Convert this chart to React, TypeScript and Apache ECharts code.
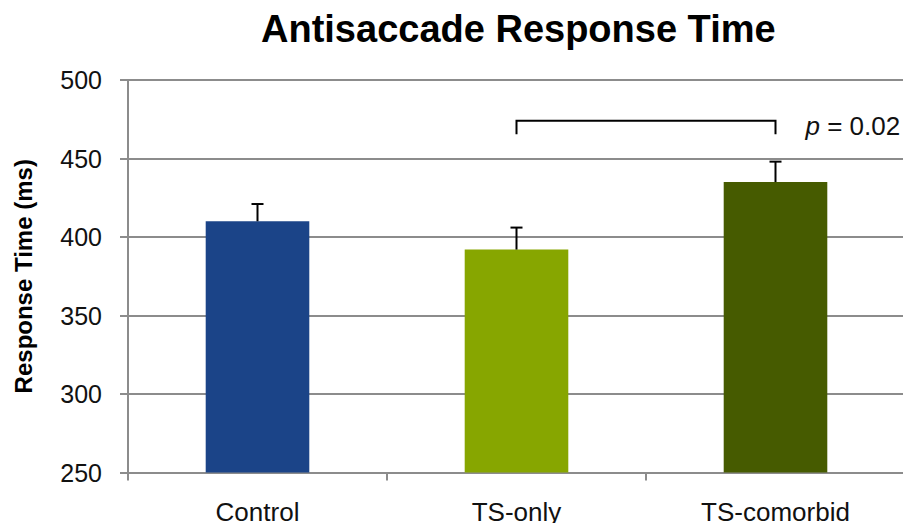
import React, { useEffect, useRef } from "react";
import * as echarts from "echarts";

const categories = ["Control", "TS-only", "TS-comorbid"];
const meanValues = [410, 392, 435];
const errorValues = [11, 14, 13];
const barColors = ["#1B4488", "#87A600", "#465B00"];
const yTicks = { min: 250, max: 500, interval: 50 };
const bracket = { from: 1, to: 2, top: 474, bottom: 465.5, label: "0.02" };

const FONT = "'Liberation Sans', Arial, Helvetica, sans-serif";

export default function App() {
  const ref = useRef<HTMLDivElement>(null);
  useEffect(() => {
    if (!ref.current) return;
    const chart = echarts.init(ref.current, null, { renderer: "svg" });
    const grey = "#8c8c8c";
    chart.setOption({
      animation: false,
      backgroundColor: "#ffffff",
      textStyle: { fontFamily: FONT },
      title: {
        text: "Antisaccade Response Time",
        left: 256,
        top: 5,
        textStyle: { fontSize: 38, fontWeight: "bold", color: "#000", fontFamily: FONT },
      },
      grid: { left: 128, right: 6, top: 80, bottom: 58.5, containLabel: false },
      xAxis: {
        type: "category",
        data: categories,
        axisLine: { lineStyle: { color: grey, width: 2 } },
        axisTick: { show: true, length: 8, alignWithLabel: false, interval: 0, lineStyle: { color: grey, width: 2 } },
        axisLabel: { fontSize: 26, color: "#111", margin: 26, fontFamily: FONT, interval: 0 },
        splitLine: { show: false },
      },
      yAxis: {
        type: "value",
        min: yTicks.min,
        max: yTicks.max,
        interval: yTicks.interval,
        name: "Response Time (ms)",
        nameLocation: "middle",
        nameRotate: 90,
        nameGap: 93,
        nameTextStyle: { fontSize: 24, fontWeight: "bold", color: "#000", fontFamily: FONT },
        axisLine: { show: true, lineStyle: { color: grey, width: 2 } },
        axisTick: { show: true, length: 8, lineStyle: { color: grey, width: 2 } },
        axisLabel: { fontSize: 25, color: "#111", margin: 26, fontFamily: FONT },
        splitLine: { show: true, lineStyle: { color: grey, width: 2 } },
      },
      series: [
        {
          type: "bar",
          barWidth: "40%",
          data: meanValues.map((v, i) => ({ value: v, itemStyle: { color: barColors[i] } })),
          z: 2,
        },
        {
          type: "custom",
          z: 5,
          data: meanValues.map((v, i) => [i, v, errorValues[i]]),
          renderItem: (params: any, api: any) => {
            const idx = api.value(0);
            const v = api.value(1);
            const e = api.value(2);
            const base = api.coord([idx, v]);
            const top = api.coord([idx, v + e]);
            const hw = 6;
            return {
              type: "group",
              children: [
                {
                  type: "line",
                  shape: { x1: base[0], y1: base[1], x2: top[0], y2: top[1] },
                  style: { stroke: "#000", lineWidth: 2 },
                },
                {
                  type: "line",
                  shape: { x1: top[0] - hw, y1: top[1], x2: top[0] + hw, y2: top[1] },
                  style: { stroke: "#000", lineWidth: 2 },
                },
              ],
            };
          },
        },
        {
          type: "custom",
          z: 5,
          data: [[bracket.from, bracket.to, bracket.top, bracket.bottom]],
          renderItem: (params: any, api: any) => {
            const a = api.coord([api.value(0), api.value(2)]);
            const b = api.coord([api.value(1), api.value(2)]);
            const a2 = api.coord([api.value(0), api.value(3)]);
            const b2 = api.coord([api.value(1), api.value(3)]);
            return {
              type: "group",
              children: [
                {
                  type: "polyline",
                  shape: { points: [[a2[0], a2[1]], [a[0], a[1]], [b[0], b[1]], [b2[0], b2[1]]] },
                  style: { stroke: "#000", lineWidth: 2, fill: "none" },
                },
                {
                  type: "text",
                  x: b[0] + 30,
                  y: b[1] + 5,
                  style: {
                    text: "{i|p} = " + bracket.label,
                    fontSize: 26,
                    fontFamily: FONT,
                    fill: "#111",
                    verticalAlign: "middle",
                    align: "left",
                    rich: { i: { fontStyle: "italic", fontSize: 26, fontFamily: FONT, fill: "#111" } },
                  },
                },
              ],
            };
          },
        },
      ],
    });
    return () => chart.dispose();
  }, []);
  return <div ref={ref} style={{ width: 911, height: 531, margin: -8 }} />;
}
